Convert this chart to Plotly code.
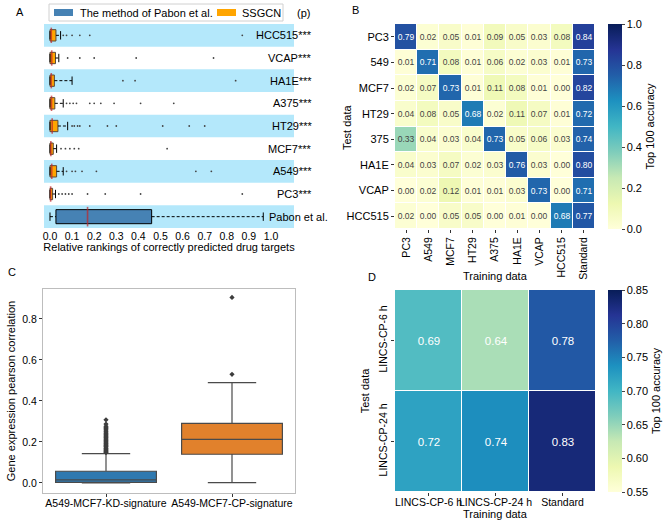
import plotly.graph_objects as go
import plotly.express as px

# ── Panel A: relative rankings (rows top to bottom) ──────────────────────────
a_rows = ["HCC515", "VCAP", "HA1E", "A375", "HT29", "MCF7", "A549", "PC3"]
a_stars = ["***"] * 8
a_q1 = [0.0, 0.0, 0.0, 0.0, 0.0, 0.0, 0.0, 0.0]
a_med = [0.006, 0.008, 0.006, 0.007, 0.010, 0.004, 0.008, 0.003]
a_q3 = [0.027, 0.025, 0.020, 0.022, 0.036, 0.015, 0.030, 0.012]
a_hi = [0.048, 0.040, 0.100, 0.060, 0.080, 0.030, 0.060, 0.025]
a_out = [
    [0.06, 0.075, 0.10, 0.135, 0.18, 0.87, 0.95],
    [0.08, 0.135, 0.20, 0.39, 0.74],
    [0.33, 0.385, 0.84],
    [0.075, 0.09, 0.105, 0.12, 0.18, 0.20, 0.23, 0.29, 0.41, 0.56],
    [0.10, 0.11, 0.125, 0.135, 0.18, 0.26, 0.30, 0.51, 0.63, 0.70],
    [0.05, 0.07, 0.09, 0.11, 0.13, 0.53],
    [0.075, 0.10, 0.115, 0.145, 0.21, 0.66, 0.73],
    [0.04, 0.055, 0.07, 0.085, 0.10, 0.17, 0.25, 0.41, 0.87],
]
pabon_name = "Pabon et al."
pabon_stats = {"lo": 0.0, "q1": 0.027, "med": 0.17, "q3": 0.46, "hi": 0.965}
a_ticks = [0.0, 0.1, 0.2, 0.3, 0.4, 0.5, 0.6, 0.7, 0.8, 0.9, 1.0]
legend_names = ["The method of Pabon et al.", "SSGCN"]

# ── Panel B: cross cell-line accuracy ────────────────────────────────────────
b_train = ["PC3", "A549", "MCF7", "HT29", "A375", "HA1E", "VCAP", "HCC515", "Standard"]
b_test = ["PC3", "549", "MCF7", "HT29", "375", "HA1E", "VCAP", "HCC515"]
b_z = [
    [0.79, 0.02, 0.05, 0.01, 0.09, 0.05, 0.03, 0.08, 0.84],
    [0.01, 0.71, 0.08, 0.01, 0.06, 0.02, 0.03, 0.01, 0.73],
    [0.02, 0.07, 0.73, 0.01, 0.11, 0.08, 0.01, 0.00, 0.82],
    [0.04, 0.08, 0.05, 0.68, 0.02, 0.11, 0.07, 0.01, 0.72],
    [0.33, 0.04, 0.03, 0.04, 0.73, 0.05, 0.06, 0.03, 0.74],
    [0.04, 0.03, 0.07, 0.02, 0.03, 0.76, 0.03, 0.00, 0.80],
    [0.00, 0.02, 0.12, 0.01, 0.01, 0.03, 0.73, 0.00, 0.71],
    [0.02, 0.00, 0.05, 0.05, 0.00, 0.01, 0.00, 0.68, 0.77],
]

# ── Panel C: expression correlation boxes ───────────────────────────────────
c_cats = ["A549-MCF7-KD-signature", "A549-MCF7-CP-signature"]
c_lo = [0.0, 0.002]
c_q1 = [0.003, 0.140]
c_med = [0.015, 0.213]
c_q3 = [0.057, 0.291]
c_hi = [0.143, 0.489]
c_out_kd = [0.148, 0.151, 0.155, 0.158, 0.163, 0.167, 0.171, 0.176, 0.18, 0.184,
            0.189, 0.193, 0.198, 0.203, 0.207, 0.212, 0.218, 0.222, 0.227, 0.233,
            0.238, 0.243, 0.249, 0.254, 0.26, 0.266, 0.271, 0.276, 0.287, 0.308]
c_out_cp = [0.53, 0.905]
c_colors = ["#2f79b0", "#e1812c"]

# ── Panel D: time point accuracy ─────────────────────────────────────────────
d_train = ["LINCS-CP-6 h", "LINCS-CP-24 h", "Standard"]
d_test = ["LINCS-CP-6 h", "LINCS-CP-24 h"]
d_z = [[0.69, 0.64, 0.78], [0.72, 0.74, 0.83]]

FONT = "Liberation Sans, Arial, sans-serif"
W, H = 668, 521
PABON_BLUE = "#4682b4"
SSGCN_ORANGE = "#ffa500"
ylgnbu = px.colors.sequential.YlGnBu
cscale = [[i / (len(ylgnbu) - 1), c] for i, c in enumerate(ylgnbu)]


def px_x(v):
    return v / W


def px_y(v):
    return 1 - v / H


def label(text, x, y, size=11, anchor="center", angle=0, yref="paper"):
    return dict(text=text, xref="paper", yref=yref, x=px_x(x),
                y=px_y(y) if yref == "paper" else y, xanchor=anchor, yanchor="middle",
                textangle=angle, showarrow=False, font=dict(size=size, color="black"))


fig = go.Figure()

# ── A ────────────────────────────────────────────────────────────────────────
rows_all = a_rows + [pabon_name]
n = len(rows_all)

fig.add_trace(go.Bar(
    y=[n - 1], x=[pabon_stats["q3"] - pabon_stats["q1"]], base=[pabon_stats["q1"]],
    orientation="h", width=0.62, marker=dict(color=PABON_BLUE, line=dict(color="black", width=1)),
    xaxis="x", yaxis="y", showlegend=False, hoverinfo="skip",
))
fig.add_trace(go.Bar(
    y=list(range(len(a_rows))), x=[q3 - q1 for q1, q3 in zip(a_q1, a_q3)], base=a_q1,
    orientation="h", width=0.5, marker=dict(color=SSGCN_ORANGE, line=dict(color="#5a4a3a", width=1)),
    xaxis="x", yaxis="y", showlegend=False, hoverinfo="skip",
))

all_lo = a_q1 + [pabon_stats["lo"]]
all_q1 = a_q1 + [pabon_stats["q1"]]
all_q3 = a_q3 + [pabon_stats["q3"]]
all_hi = a_hi + [pabon_stats["hi"]]
all_med = a_med + [pabon_stats["med"]]

for i in range(n):
    fig.add_trace(go.Scatter(
        x=[all_lo[i], all_q1[i], None, all_q3[i], all_hi[i]], y=[i, i, None, i, i],
        mode="lines", line=dict(color="black", width=1, dash="3px,2px"),
        xaxis="x", yaxis="y", showlegend=False, hoverinfo="skip",
    ))
    fig.add_trace(go.Scatter(
        x=[all_lo[i], all_hi[i]], y=[i, i], mode="markers",
        marker=dict(symbol="line-ns", size=6, line=dict(color="black", width=1)),
        xaxis="x", yaxis="y", showlegend=False, hoverinfo="skip",
    ))

fig.add_trace(go.Scatter(
    x=all_med, y=list(range(n)), mode="markers",
    marker=dict(symbol="line-ns", size=[11] * len(a_rows) + [14],
                line=dict(color="#c0262a", width=1.6)),
    xaxis="x", yaxis="y", showlegend=False, hoverinfo="skip",
))

ox, oy = [], []
for i, vals in enumerate(a_out):
    ox += vals
    oy += [i] * len(vals)
fig.add_trace(go.Scatter(
    x=ox, y=oy, mode="markers", marker=dict(color="#444", size=1.8),
    xaxis="x", yaxis="y", showlegend=False, hoverinfo="skip",
))

shapes = []
for i in range(0, n, 2):
    shapes.append(dict(type="rect", xref="x domain", yref="y", x0=0, x1=1,
                       y0=i - 0.5, y1=i + 0.5, fillcolor="#b4e8fb",
                       line=dict(width=0), layer="below"))

# legend box for panel A
shapes.append(dict(type="rect", xref="paper", yref="paper", x0=px_x(49), x1=px_x(283),
                   y0=px_y(21), y1=px_y(4), fillcolor="white",
                   line=dict(color="#d0d0d0", width=1)))
shapes.append(dict(type="rect", xref="paper", yref="paper", x0=px_x(54), x1=px_x(73),
                   y0=px_y(16), y1=px_y(9), fillcolor=PABON_BLUE, line=dict(width=0)))
shapes.append(dict(type="rect", xref="paper", yref="paper", x0=px_x(217), x1=px_x(236),
                   y0=px_y(16), y1=px_y(9), fillcolor=SSGCN_ORANGE, line=dict(width=0)))

annotations = []
for name, xl in zip(legend_names, [78, 240]):
    annotations.append(label(name, xl, 12.5, anchor="left"))
for i, (name, st) in enumerate(zip(a_rows, a_stars)):
    annotations.append(label(name + st, 314, i, anchor="right", yref="y"))
annotations.append(label(pabon_name, 330, n - 1, anchor="right", yref="y"))
annotations.append(label("(p)", 303, 13))

# ── B ────────────────────────────────────────────────────────────────────────
fig.add_trace(go.Heatmap(
    z=b_z, x=b_train, y=b_test, coloraxis="coloraxis", xgap=1, ygap=1,
    texttemplate="%{z:.2f}", textfont=dict(size=8.5),
    xaxis="x2", yaxis="y2", hoverinfo="skip",
))
annotations.append(label("Training data", 495, 276))
annotations.append(label("Test data", 347, 127, angle=-90))

# ── C ────────────────────────────────────────────────────────────────────────
for i in range(2):
    fig.add_trace(go.Box(
        x=[c_cats[i]], q1=[c_q1[i]], median=[c_med[i]], q3=[c_q3[i]],
        lowerfence=[c_lo[i]], upperfence=[c_hi[i]],
        fillcolor=c_colors[i], line=dict(color="#4a4a4a", width=1.2),
        width=0.8, whiskerwidth=0.48, boxpoints=False,
        xaxis="x3", yaxis="y3", showlegend=False, hoverinfo="skip",
    ))
fig.add_trace(go.Scatter(
    x=[c_cats[0]] * len(c_out_kd) + [c_cats[1]] * len(c_out_cp), y=c_out_kd + c_out_cp,
    mode="markers", marker=dict(symbol="diamond", size=4, color="#3d3d3d"),
    xaxis="x3", yaxis="y3", showlegend=False, hoverinfo="skip",
))

# ── D ────────────────────────────────────────────────────────────────────────
fig.add_trace(go.Heatmap(
    z=d_z, x=d_train, y=d_test, coloraxis="coloraxis2", xgap=1, ygap=1,
    texttemplate="%{z:.2f}", textfont=dict(size=11.5, color="white"),
    xaxis="x4", yaxis="y4", hoverinfo="skip",
))
annotations.append(label("Training data", 495, 514))

# panel letters
for letter, x, y in [("A", 20, 12), ("B", 355, 10), ("C", 12, 272), ("D", 372, 277)]:
    annotations.append(label(letter, x, y))

tickfont = dict(size=10.5, color="black")
titlefont = dict(size=11, color="black")


def colorbar(yc, length, vals, fmt):
    return dict(x=px_x(608), xanchor="left", xpad=0, y=px_y(yc), yanchor="middle", ypad=0,
                len=length / H, lenmode="fraction", thickness=14, thicknessmode="pixels",
                outlinewidth=0, ticks="outside", ticklen=3, tickvals=vals, tickformat=fmt,
                tickfont=dict(size=11, color="black"),
                title=dict(text="Top 100 accuracy", side="right", font=titlefont))


fig.update_layout(
    width=W, height=H, margin=dict(l=0, r=0, t=0, b=0, autoexpand=False),
    paper_bgcolor="white", plot_bgcolor="white",
    font=dict(family=FONT, color="black"),
    barmode="overlay", boxmode="overlay", showlegend=False,
    shapes=shapes, annotations=annotations,
    xaxis=dict(domain=[px_x(44), px_x(294)], anchor="y", range=[-0.027, 1.104],
               tickvals=a_ticks, ticktext=[f"{t:.1f}" for t in a_ticks],
               showgrid=False, zeroline=False, showline=False, ticks="",
               tickfont=tickfont, automargin=False,
               title=dict(text="Relative rankings of correctly predicted drug targets",
                          font=titlefont, standoff=2)),
    yaxis=dict(domain=[px_y(228), px_y(24)], anchor="x", range=[n - 0.5, -0.5],
               visible=False, automargin=False),
    xaxis2=dict(domain=[px_x(395), px_x(595)], anchor="y2", type="category",
                tickangle=-90, ticks="outside", ticklen=3, tickcolor="#333",
                showgrid=False, zeroline=False, tickfont=tickfont, automargin=False),
    yaxis2=dict(domain=[px_y(229), px_y(24)], anchor="x2", type="category",
                autorange="reversed", ticks="outside", ticklen=3, tickcolor="#333",
                showgrid=False, zeroline=False, tickfont=dict(size=11, color="black"),
                automargin=False),
    xaxis3=dict(domain=[px_x(43), px_x(295)], anchor="y3", type="category",
                tickangle=0, ticks="outside", ticklen=3, tickcolor="#333", showgrid=False,
                showline=True, mirror=True, linecolor="#bdbdbd", linewidth=1,
                tickfont=tickfont, automargin=False, ticklabelstandoff=-3),
    yaxis3=dict(domain=[px_y(493), px_y(289)], anchor="x3", range=[-0.049, 0.946],
                tickvals=[0.0, 0.2, 0.4, 0.6, 0.8], tickformat=".1f",
                ticks="outside", ticklen=3, tickcolor="#333", showgrid=False, zeroline=False,
                showline=True, mirror=True, linecolor="#bdbdbd", linewidth=1,
                tickfont=tickfont, automargin=False,
                title=dict(text="Gene expression pearson correlation", font=titlefont,
                           standoff=4)),
    xaxis4=dict(domain=[px_x(395), px_x(596)], anchor="y4", type="category",
                tickangle=0, ticks="outside", ticklen=3, tickcolor="#333", showgrid=False,
                zeroline=False, tickfont=tickfont, automargin=False, ticklabelstandoff=-3),
    yaxis4=dict(domain=[px_y(492), px_y(290)], anchor="x4", type="category",
                autorange="reversed", tickangle=-90, ticks="outside", ticklen=3,
                tickcolor="#333", showgrid=False, zeroline=False, tickfont=tickfont,
                automargin=False,
                title=dict(text="Test data", font=titlefont, standoff=4)),
    coloraxis=dict(colorscale=cscale, cmin=0, cmax=1,
                   colorbar=colorbar(126.5, 205, [0.0, 0.2, 0.4, 0.6, 0.8, 1.0], ".1f")),
    coloraxis2=dict(colorscale=cscale, cmin=0.55, cmax=0.85,
                    colorbar=colorbar(391, 202, [0.55, 0.60, 0.65, 0.70, 0.75, 0.80, 0.85],
                                      ".2f")),
)

fig.write_html("out.html", config={"displayModeBar": False},
               post_script="document.body.style.margin='0';")
